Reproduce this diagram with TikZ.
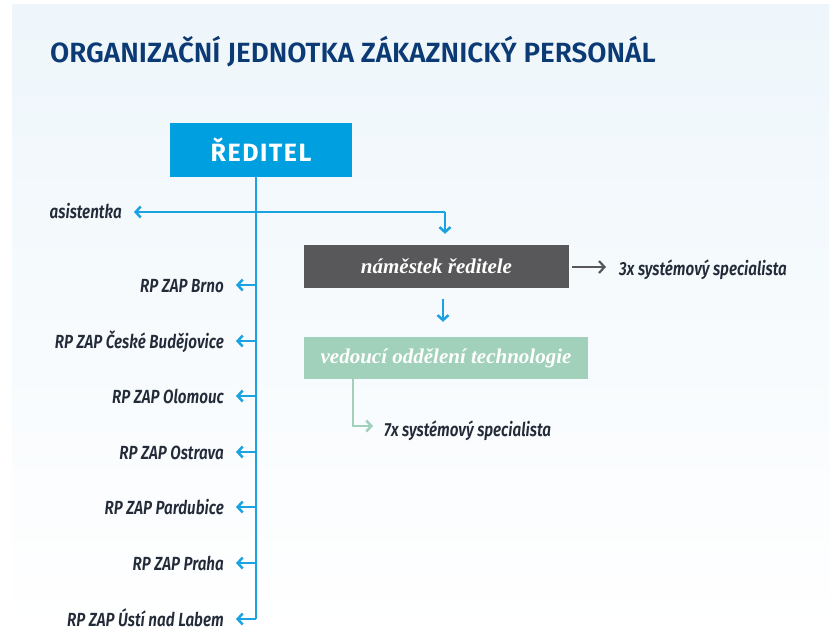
\documentclass[tikz,border=0pt]{standalone}
\usepackage{fontspec}
\usetikzlibrary{arrows.meta}
\setmainfont{Fira Sans}
\newfontfamily\titlefont{Fira Sans SemiBold}
\newfontfamily\labfont[FakeStretch=0.8]{Fira Sans SemiBold Italic}
\newfontfamily\headfont[LetterSpace=6]{Fira Sans}
\newfontfamily\boxfont{Liberation Serif}

\definecolor{panel}{HTML}{EEF6FB}
\definecolor{navy}{HTML}{0C3A74}
\definecolor{dirblue}{HTML}{009FDF}
\definecolor{linkblue}{HTML}{1AA3E0}
\definecolor{boxgray}{HTML}{58585A}
\definecolor{mint}{HTML}{A1D1BA}
\definecolor{ink}{HTML}{232B39}

\tikzset{
  lab/.style={font=\labfont\fontsize{19}{22}\selectfont, text=ink, inner sep=0pt},
  boxtext/.style={font=\boxfont\bfseries\itshape\fontsize{21}{24}\selectfont, text=white, inner sep=0pt},
  dirbox/.style={fill=dirblue, minimum width=182pt, minimum height=54pt, inner sep=0pt,
    text=white, font=\headfont\bfseries\fontsize{25}{28}\selectfont},
  grayrect/.style={boxtext, fill=boxgray, minimum width=265pt, minimum height=43pt},
  mintrect/.style={boxtext, fill=mint, minimum width=284pt, minimum height=42pt},
  barrow/.style={draw=linkblue, line width=2.5pt, -{Straight Barb[length=5pt,width=11pt]}},
  bline/.style={draw=linkblue, line width=2.5pt},
  garrow/.style={draw=boxgray, line width=2.2pt, -{Straight Barb[length=5.5pt,width=12pt]}},
  marrow/.style={draw=mint, line width=2.5pt, -{Straight Barb[length=5pt,width=11pt]}},
}

\begin{document}
\begin{tikzpicture}[x=1pt,y=-1pt]
\useasboundingbox (0,0) rectangle (831,633);
\fill[white] (0,0) rectangle (831,633);
\shade[top color=panel, bottom color=white] (12,4) rectangle (829,633);

% heading
\node[anchor=base west, inner sep=0pt, text=navy, font=\titlefont\fontsize{27.8}{30}\selectfont]
  (title) at (50,62) {ORGANIZAČNÍ JEDNOTKA ZÁKAZNICKÝ PERSONÁL};

% boxes
\node[dirbox] (dir) at (261,150) {ŘEDITEL};
\node[grayrect] (nam) at (436.5,266.5) {náměstek ředitele};
\node[mintrect] (ved) at (446,358) {vedoucí oddělení technologie};

% side labels
\node[lab, anchor=base east] (asist) at (122,218) {asistentka};
\node[lab, anchor=base west] (spec3) at (619,275) {3x systémový specialista};
\node[lab, anchor=base west] (spec7) at (384,436) {7x systémový specialista};

% regional offices
\foreach \n/\yy/\txt in {1/285/RP ZAP Brno, 2/341/RP ZAP České Budějovice,
    3/396/RP ZAP Olomouc, 4/452/RP ZAP Ostrava, 5/507/RP ZAP Pardubice,
    6/563/RP ZAP Praha, 7/619/RP ZAP Ústí nad Labem}{
  \coordinate (b\n) at (256,\yy);
  \node[lab, anchor=base east] (r\n) at (224,\yy+7) {\txt};
  \draw[barrow, shorten >=12pt] (b\n) -- (b\n -| r\n.east);
}

% trunk and branches
\coordinate (t0) at (256,177);
\coordinate (fork) at (256,212);
\coordinate (drop) at (445,212);
\draw[bline] (t0) -- (b7);
\draw[barrow, shorten >=12pt] (fork) -- (fork -| asist.east);
\draw[bline] (fork) -- (drop);
\draw[barrow, shorten >=11pt] (drop) -- (drop |- nam.north);
\coordinate (d1) at (443,288);
\draw[barrow, shorten <=11pt, shorten >=15pt] (d1) -- (d1 |- ved.north);

% deputy's specialists
\coordinate (g0) at (569,267);
\draw[garrow, shorten <=3pt, shorten >=13pt] (g0) -- (g0 -| spec3.west);

% technology head's specialists
\coordinate (m0) at (353,379);
\coordinate (m1) at (353,426);
\draw[marrow, shorten >=11pt] (m0) -- (m1) -- (m1 -| spec7.west);
\end{tikzpicture}
\end{document}
